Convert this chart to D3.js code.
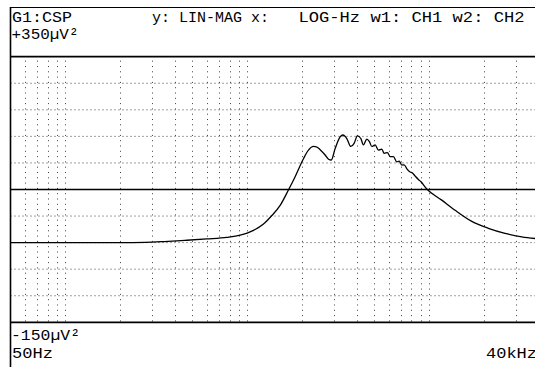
<!DOCTYPE html>
<html>
<head>
<meta charset="utf-8">
<script src="https://cdn.jsdelivr.net/npm/d3@7"></script>
<style>
  html, body { margin: 0; padding: 0; background: #fff; }
  svg { display: block; }
  text { font-family: "Liberation Mono", "DejaVu Sans Mono", monospace; fill: #000; }
</style>
</head>
<body>
<svg id="chart" width="535" height="367"></svg>
<script>
// ---- data ----
const freqHz = [50, 100, 200, 275, 350, 466, 600, 774, 915, 1000, 1083, 1229, 1367, 1518, 1686, 1835,
  2039, 2172, 2314, 2420, 2518, 2683, 2800, 2900, 3045, 3243, 3356, 3530, 3713, 3871, 4036, 4214,
  4355, 4546, 4699, 4844, 5050, 5265, 5497, 5659, 5901, 6106, 6366, 6645, 6850, 7079, 7300, 7550,
  7864, 8100, 8400, 8735, 9000, 9714, 11740, 13900, 17170, 21180, 26160, 32320, 40000];
const cspValues = [0, 0, 0, 0.5, 2, 4.5, 7, 10, 14, 18, 23, 35, 51, 70, 99, 124,
  158, 174, 181, 180, 175, 165, 157, 155.5, 177, 199, 202.6, 196, 181, 187, 201, 196,
  184, 195, 190, 181, 184, 174, 176, 168, 169.5, 162, 162, 152, 153.5, 146, 146.5, 139,
  133, 131, 125, 119, 115, 101, 80, 61, 40, 27, 17.5, 11, 7];
const yTicks = [-150, -100, -50, 0, 50, 100, 150, 200, 250, 300, 350];
const xTicks = [60, 70, 80, 90, 100, 200, 300, 400, 500, 600, 700, 800, 900,
  1000, 2000, 3000, 4000, 5000, 6000, 7000, 8000, 9000, 10000, 20000, 30000];
const headerTexts = ["G1:CSP", "y: LIN-MAG x:", "LOG-Hz w1: CH1 w2: CH2"];
const yTopLabel = "+350µV²";
const yBottomLabel = "-150µV²";
const xStartLabel = "50Hz";
const xEndLabel = "40kHz";

// ---- layout ----
const svg = d3.select("#chart");
const pLeft = 10.5, pRight = 538.6, pTop = 56.7, pBottom = 322.3;
const x = d3.scaleLog().domain([50, 40000]).range([pLeft, pRight]);
const y = d3.scaleLinear().domain([-150, 350]).range([pBottom, pTop]);

// outer frame lines
svg.append("line").attr("x1", pLeft).attr("x2", 535).attr("y1", 7.5).attr("y2", 7.5)
  .attr("stroke", "#000").attr("stroke-width", 1.2);
svg.append("line").attr("x1", pLeft).attr("x2", pLeft).attr("y1", 7).attr("y2", 367)
  .attr("stroke", "#000").attr("stroke-width", 1.6);

// grid: horizontal
const g = svg.append("g");
g.selectAll("line.h").data(yTicks.filter(d => d > -150 && d < 350)).enter().append("line")
  .attr("x1", pLeft).attr("x2", 535)
  .attr("y1", d => y(d)).attr("y2", d => y(d))
  .attr("stroke", "#000")
  .attr("stroke-width", d => d === 100 ? 1.5 : 1)
  .attr("stroke-dasharray", d => d === 100 ? null : "1,3")
  .attr("opacity", d => d === 100 ? 1 : 0.75);

// grid: vertical
g.selectAll("line.v").data(xTicks).enter().append("line")
  .attr("x1", d => Math.round(x(d)) + 0.5).attr("x2", d => Math.round(x(d)) + 0.5)
  .attr("y1", pTop + 4).attr("y2", pBottom)
  .attr("stroke", "#000").attr("stroke-width", 1)
  .attr("stroke-dasharray", "1,4.3")
  .attr("opacity", 0.75);

// plot frame top/bottom
svg.append("line").attr("x1", pLeft).attr("x2", 535).attr("y1", pTop).attr("y2", pTop)
  .attr("stroke", "#000").attr("stroke-width", 1.8);
svg.append("line").attr("x1", pLeft).attr("x2", 535).attr("y1", pBottom).attr("y2", pBottom)
  .attr("stroke", "#000").attr("stroke-width", 1.8);

// curve
const pts = freqHz.map((f, i) => [f, cspValues[i]]);
const line = d3.line().x(d => x(d[0])).y(d => y(d[1])).curve(d3.curveMonotoneX);
svg.append("path").datum(pts).attr("d", line)
  .attr("fill", "none").attr("stroke", "#000").attr("stroke-width", 1.3);

// texts
const FS = 15.5;
function txt(s, xx, yy, w) {
  svg.append("text").attr("x", xx).attr("y", yy).attr("font-size", FS)
    .attr("textLength", w).attr("lengthAdjust", "spacingAndGlyphs").text(s);
}
txt(headerTexts[0], 12, 21.5, 60);
txt(headerTexts[1], 152, 21.5, 117);
txt(headerTexts[2], 298.5, 21.5, 226);
txt(yTopLabel, 11.5, 39.3, 67);
txt(yBottomLabel, 11, 339.5, 69);
txt(xStartLabel, 12, 357.5, 41);
txt(xEndLabel, 486, 357.5, 51);
</script>
</body>
</html>
